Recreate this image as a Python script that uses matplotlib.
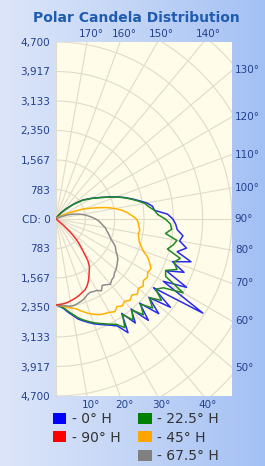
import numpy as np
import matplotlib
matplotlib.use('Agg')
import matplotlib.pyplot as plt
from matplotlib.patches import Patch
from matplotlib.colors import LinearSegmentedColormap

# 垂直角 (0° = 正下方, 180° = 正上方)
angles = [0, 2.5, 5, 7.5, 10, 12.5, 15, 17.5, 20, 22.5, 25, 27.5,
          30, 32.5, 35, 37.5, 40, 42.5, 45, 47.5, 50, 52.5, 55, 57.5,
          60, 62.5, 65, 67.5, 70, 72.5, 75, 77.5, 80, 82.5, 85, 87.5,
          90, 92.5, 95, 97.5, 100, 102.5, 105, 107.5, 110, 112.5, 115, 117.5,
          120, 125, 130, 135, 140, 145, 150, 155, 160, 165, 170, 175, 180]

# 各水平面的光强 (cd)
cd_0 = [2280, 2320, 2390, 2500, 2600, 2720, 2800, 2880, 2960, 3030, 3100, 3180,
        3280, 3580, 3060, 3480, 3120, 3650, 3160, 3720, 3240, 3850, 3180, 4650,
        3310, 3930, 3250, 3700, 3310, 3780, 3350, 3570, 3350, 3420, 3250, 3200,
        3120, 2980, 2640, 2600, 2460, 2260, 2080, 1900, 1720, 1530, 1360, 1220,
        1100, 880, 620, 380, 230, 120, 65, 30, 15, 8, 4, 2, 0]
cd_22 = [2280, 2310, 2370, 2470, 2570, 2680, 2770, 2850, 2930, 3000, 3070, 3150,
         3230, 3420, 3100, 3380, 3150, 3450, 3200, 3500, 3250, 3550, 3250, 3400,
         3920, 3300, 3230, 3500, 3350, 3480, 3080, 3200, 3280, 2950, 3100, 3060,
         2920, 2720, 2640, 2500, 2400, 2230, 2060, 1890, 1710, 1520, 1350, 1210,
         1090, 870, 610, 375, 225, 118, 64, 30, 15, 8, 4, 2, 0]
cd_45 = [2280, 2300, 2330, 2370, 2400, 2440, 2520, 2600, 2680, 2740, 2800, 2830,
         2860, 2920, 2840, 2910, 2850, 2930, 2860, 2950, 2870, 2930, 2850, 2890,
         2830, 2860, 2760, 2650, 2480, 2380, 2300, 2260, 2230, 2260, 2220, 2200,
         2150, 2030, 1920, 1780, 1600, 1400, 1160, 950, 780, 560, 400, 280,
         200, 110, 60, 30, 15, 8, 4, 2, 1, 0, 0, 0, 0]
cd_67 = [2280, 2290, 2310, 2330, 2350, 2340, 2310, 2280, 2240, 2180, 2150, 2170,
         2190, 2260, 2150, 2200, 2260, 2200, 2180, 2120, 2090, 2050, 2000, 1960,
         1880, 1800, 1750, 1660, 1560, 1500, 1440, 1380, 1340, 1260, 1200, 1140,
         1060, 970, 880, 800, 700, 600, 500, 400, 300, 200, 130, 80,
         40, 15, 5, 0, 0, 0, 0, 0, 0, 0, 0, 0, 0]
cd_90 = [2280, 2270, 2260, 2240, 2210, 2180, 2150, 2110, 2070, 2030, 1960, 1870,
         1760, 1650, 1560, 1400, 1150, 950, 780, 520, 250, 80, 0, 0,
         0, 0, 0, 0, 0, 0, 0, 0, 0, 0, 0, 0,
         0, 0, 0, 0, 0, 0, 0, 0, 0, 0, 0, 0,
         0, 0, 0, 0, 0, 0, 0, 0, 0, 0, 0, 0, 0]

series = [cd_0, cd_22, cd_45, cd_67, cd_90]
names = ['- 0° H', '- 22.5° H', '- 45° H', '- 67.5° H', '- 90° H']
colors = ['#2b2bea', '#1f8a1f', '#ffb000', '#8c8c8c', '#f03030']
legend_colors = ['#0000ff', '#008000', '#ffa500', '#808080', '#ff0000']

max_cd = 4700
ring_step = 783.33
cd_ticks = [4700, 3917, 3133, 2350, 1567, 783, 0, -783, -1567, -2350, -3133, -3917, -4700]
cd_labels = ['4,700', '3,917', '3,133', '2,350', '1,567', '783', 'CD: 0',
             '783', '1,567', '2,350', '3,133', '3,917', '4,700']
right_angles = [130, 120, 110, 100, 90, 80, 70, 60, 50]
top_angles = [170, 160, 150, 140]
bottom_angles = [10, 20, 30, 40]

label_color = '#23408e'
grid_color = '#e0dbca'

fig = plt.figure(figsize=(2.65, 4.66), dpi=100)

# 背景渐变
bg = fig.add_axes([0, 0, 1, 1], zorder=-10)
grad = np.linspace(0, 1, 256).reshape(1, -1)
cmap = LinearSegmentedColormap.from_list('bg', ['#dde6f9', '#c3d5f6', '#a3c0f4'])
bg.imshow(grad, aspect='auto', cmap=cmap, extent=[0, 1, 0, 1])
bg.axis('off')

fig.text(0.515, 0.962, 'Polar Candela Distribution', ha='center', va='center',
         fontsize=10, fontweight='bold', color='#1f5cb0')

ax = fig.add_axes([56 / 265, 70 / 466, 176 / 265, 354 / 466])
ax.set_facecolor('#fffcea')
ax.set_xlim(0, max_cd)
ax.set_ylim(-max_cd, max_cd)
for s in ax.spines.values():
    s.set_visible(False)

# 极坐标网格
t = np.radians(np.linspace(0, 180, 200))
for k in range(1, 9):
    r = ring_step * k
    ax.plot(r * np.sin(t), -r * np.cos(t), color=grid_color, lw=0.8, zorder=1)
for a in range(0, 181, 10):
    ar = np.radians(a)
    ax.plot([0, 8000 * np.sin(ar)], [0, -8000 * np.cos(ar)], color=grid_color, lw=0.8, zorder=1)

# 曲线
th = np.radians(angles)
for vals, c in zip(series, colors):
    v = np.array(vals)
    ax.plot(v * np.sin(th), -v * np.cos(th), color=c, lw=1.1, zorder=3)

ax.set_xticks([])
ax.set_yticks(cd_ticks)
ax.set_yticklabels(cd_labels, fontsize=7.5, color=label_color)
ax.tick_params(axis='y', length=0, pad=4)

for a in right_angles:
    y = -max_cd / np.tan(np.radians(a)) if a != 90 else 0
    ax.annotate('%d°' % a, xy=(max_cd, y), xytext=(2, 0), textcoords='offset points',
                ha='left', va='center', fontsize=7.5, color=label_color, annotation_clip=False)
for a in top_angles:
    x = max_cd * np.tan(np.radians(180 - a))
    ax.annotate('%d°' % a, xy=(x, max_cd), xytext=(3, 2), textcoords='offset points',
                ha='center', va='bottom', fontsize=7.5, color=label_color, annotation_clip=False)
for a in bottom_angles:
    x = max_cd * np.tan(np.radians(a))
    ax.annotate('%d°' % a, xy=(x, -max_cd), xytext=(3, -3), textcoords='offset points',
                ha='center', va='top', fontsize=7.5, color=label_color, annotation_clip=False)

# 图例 (第一列 0°, 90°; 第二列 22.5°, 45°, 67.5°)
order = [0, 4, None, 1, 2, 3]
handles, labels = [], []
for i in order:
    if i is None:
        handles.append(Patch(facecolor='none', edgecolor='none'))
        labels.append('')
    else:
        handles.append(Patch(facecolor=legend_colors[i], edgecolor='none'))
        labels.append(names[i])
leg = fig.legend(handles, labels, ncol=2, loc='upper left', bbox_to_anchor=(53 / 265, 54 / 466),
                 frameon=False, fontsize=10, handlelength=0.95, handleheight=0.85,
                 handletextpad=0.4, columnspacing=1.3, labelspacing=0.33,
                 borderpad=0, borderaxespad=0)
for txt in leg.get_texts():
    txt.set_color('#333333')

fig.savefig('out.png', dpi=100)
